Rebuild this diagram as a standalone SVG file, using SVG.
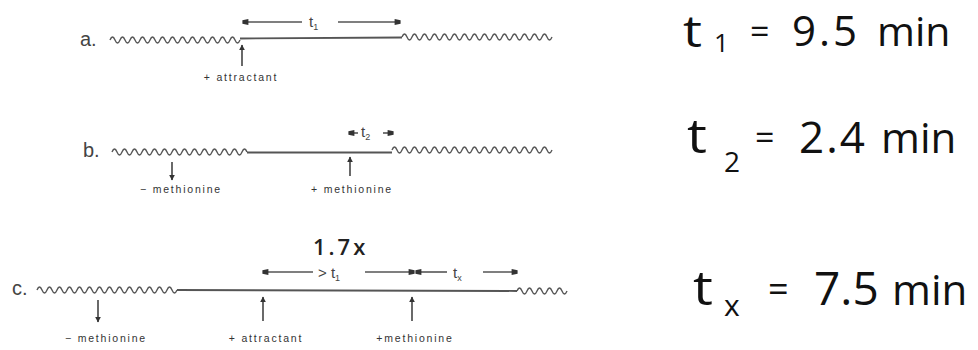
<svg xmlns="http://www.w3.org/2000/svg" width="978" height="350" viewBox="0 0 978 350">
  <style>
    .wave { fill: none; stroke: #555; stroke-width: 1.4; }
    .trace { fill: none; stroke: #555; stroke-width: 1.8; }
    .dim { fill: none; stroke: #555; stroke-width: 1.6; }
    .ptr { fill: none; stroke: #444; stroke-width: 1.6; }
    .row { font-family: "Liberation Sans", Arial, sans-serif; font-size: 20px; fill: #444; }
    .lbl { font-family: "Liberation Sans", Arial, sans-serif; font-size: 10.5px; fill: #333; letter-spacing: 1.8px; text-anchor: middle; }
    .dt { font-family: "Liberation Sans", Arial, sans-serif; font-size: 15px; fill: #444; }
    .hand { font-family: "Open Sans", "Noto Sans", "DejaVu Sans", sans-serif; font-weight: 400; fill: #111; }
    .factor { font-family: "Open Sans", "Noto Sans", "DejaVu Sans", sans-serif; font-weight: 600; font-size: 22px; letter-spacing: 3px; fill: #222; }
  </style>
  <defs>
    <marker id="head" viewBox="0 0 10 10" refX="9" refY="5" markerWidth="6" markerHeight="7" markerUnits="userSpaceOnUse" orient="auto-start-reverse">
      <path d="M0,0 L10,5 L0,10 z" fill="#333"/>
    </marker>
    <marker id="bar" viewBox="0 0 10 10" refX="9" refY="5" markerWidth="9" markerHeight="6" markerUnits="userSpaceOnUse" orient="auto-start-reverse">
      <path d="M0,0 L10,2 L10,8 L0,10 z" fill="#333"/>
    </marker>
  </defs>

  <!-- trace a: attractant pulse -->
  <g id="trace-a">
    <text class="row" x="80" y="46">a.</text>
    <path class="wave" d="M110,40 q2.5,-6 5,0 t5,0 t5,0 t5,0 t5,0 t5,0 t5,0 t5,0 t5,0 t5,0 t5,0 t5,0 t5,0 t5,0 t5,0 t5,0 t5,0 t5,0 t5,0 t5,0 t5,0 t5,0 t5,0 t5,0 t5,0 t5,0"/>
    <line class="trace" x1="240" y1="38.5" x2="402" y2="37.5"/>
    <path class="wave" d="M402,37 q2.5,-6 5,0 t5,0 t5,0 t5,0 t5,0 t5,0 t5,0 t5,0 t5,0 t5,0 t5,0 t5,0 t5,0 t5,0 t5,0 t5,0 t5,0 t5,0 t5,0 t5,0 t5,0 t5,0 t5,0 t5,0 t5,0 t5,0 t5,0 t5,0 t5,0 t5,0"/>
    <text class="lbl" x="241" y="81">+ attractant</text>
  </g>

  <!-- trace b: methionine removal and re-addition -->
  <g id="trace-b">
    <text class="row" x="83" y="157">b.</text>
    <path class="wave" d="M112,152 q2.5,-6 5,0 t5,0 t5,0 t5,0 t5,0 t5,0 t5,0 t5,0 t5,0 t5,0 t5,0 t5,0 t5,0 t5,0 t5,0 t5,0 t5,0 t5,0 t5,0 t5,0 t5,0 t5,0 t5,0 t5,0 t5,0 t5,0 t5,0"/>
    <line class="trace" x1="247" y1="152.5" x2="392" y2="152.5"/>
    <path class="wave" d="M392,150 q2.5,-6 5,0 t5,0 t5,0 t5,0 t5,0 t5,0 t5,0 t5,0 t5,0 t5,0 t5,0 t5,0 t5,0 t5,0 t5,0 t5,0 t5,0 t5,0 t5,0 t5,0 t5,0 t5,0 t5,0 t5,0 t5,0 t5,0 t5,0 t5,0 t5,0 t5,0 t5,0 t5,0"/>
    <text class="lbl" x="181" y="193">− methionine</text>
    <text class="lbl" x="352" y="193">+ methionine</text>
  </g>

  <!-- trace c: combined protocol -->
  <g id="trace-c">
    <text class="row" x="12" y="295">c.</text>
    <path class="wave" d="M37,290 q2.5,-6 5,0 t5,0 t5,0 t5,0 t5,0 t5,0 t5,0 t5,0 t5,0 t5,0 t5,0 t5,0 t5,0 t5,0 t5,0 t5,0 t5,0 t5,0 t5,0 t5,0 t5,0 t5,0 t5,0 t5,0 t5,0 t5,0 t5,0 t5,0"/>
    <line class="trace" x1="177" y1="290" x2="517" y2="291"/>
    <path class="wave" d="M517,291 q2.5,-6 5,0 t5,0 t5,0 t5,0 t5,0 t5,0 t5,0 t5,0 t5,0 t5,0"/>
    <text class="factor" x="313" y="255">1.7x</text>
    <text class="lbl" x="106" y="342">− methionine</text>
    <text class="lbl" x="266" y="342">+ attractant</text>
    <text class="lbl" x="415" y="342">+methionine</text>
  </g>

  <!-- interval markers and addition arrows -->
  <g id="connectors">
    <line class="dim" x1="302" y1="22" x2="243" y2="22" marker-end="url(#bar)"/>
    <text class="dt" x="309" y="27">t<tspan font-size="9" dy="3">1</tspan></text>
    <line class="dim" x1="338" y1="22" x2="400" y2="22" marker-end="url(#bar)"/>
    <line class="ptr" x1="242" y1="66" x2="242" y2="45" marker-end="url(#head)"/>

    <line class="dim" x1="358" y1="133" x2="349" y2="133" marker-end="url(#bar)"/>
    <text class="dt" x="361" y="137">t<tspan font-size="9" dy="3">2</tspan></text>
    <line class="dim" x1="383" y1="133" x2="393" y2="133" marker-end="url(#bar)"/>
    <line class="ptr" x1="172" y1="162" x2="172" y2="180" marker-end="url(#head)"/>
    <line class="ptr" x1="350" y1="176" x2="350" y2="157" marker-end="url(#head)"/>

    <line class="dim" x1="313" y1="272" x2="263" y2="272" marker-end="url(#bar)"/>
    <text class="dt" x="318" y="278">&gt; t<tspan font-size="9" dy="3">1</tspan></text>
    <line class="dim" x1="365" y1="272" x2="414" y2="272" marker-end="url(#bar)"/>
    <line class="dim" x1="447" y1="272" x2="416" y2="272" marker-end="url(#bar)"/>
    <text class="dt" x="453" y="278">t<tspan font-size="9" dy="3">x</tspan></text>
    <line class="dim" x1="483" y1="272" x2="517" y2="272" marker-end="url(#bar)"/>
    <line class="ptr" x1="98" y1="300" x2="98" y2="322" marker-end="url(#head)"/>
    <line class="ptr" x1="263" y1="321" x2="263" y2="297" marker-end="url(#head)"/>
    <line class="ptr" x1="412" y1="321" x2="412" y2="297" marker-end="url(#head)"/>
  </g>

  <!-- measured intervals -->
  <g id="result-t1">
    <text class="hand" transform="translate(683,47) scale(1.3,1.05)" font-size="41">t</text>
    <text class="hand" x="714" y="52" font-size="26">1</text>
    <text class="hand" x="750" y="44" font-size="34">=</text>
    <text class="hand" x="792" y="46" font-size="42" letter-spacing="3">9.5</text>
    <text class="hand" x="877" y="46" font-size="41">min</text>
  </g>
  <g id="result-t2">
    <text class="hand" transform="translate(687,153) scale(1.3,1.1)" font-size="43">t</text>
    <text class="hand" x="724" y="172" font-size="28">2</text>
    <text class="hand" x="755" y="150" font-size="34">=</text>
    <text class="hand" x="799" y="153" font-size="44" letter-spacing="2">2.4</text>
    <text class="hand" x="881" y="153" font-size="42">min</text>
  </g>
  <g id="result-tx">
    <text class="hand" transform="translate(693,305) scale(1.3,1.1)" font-size="43">t</text>
    <text class="hand" x="724" y="316" font-size="30">x</text>
    <text class="hand" x="768" y="302" font-size="36">=</text>
    <text class="hand" x="814" y="305" font-size="46">7.5</text>
    <text class="hand" x="892" y="305" font-size="42">min</text>
  </g>
</svg>
